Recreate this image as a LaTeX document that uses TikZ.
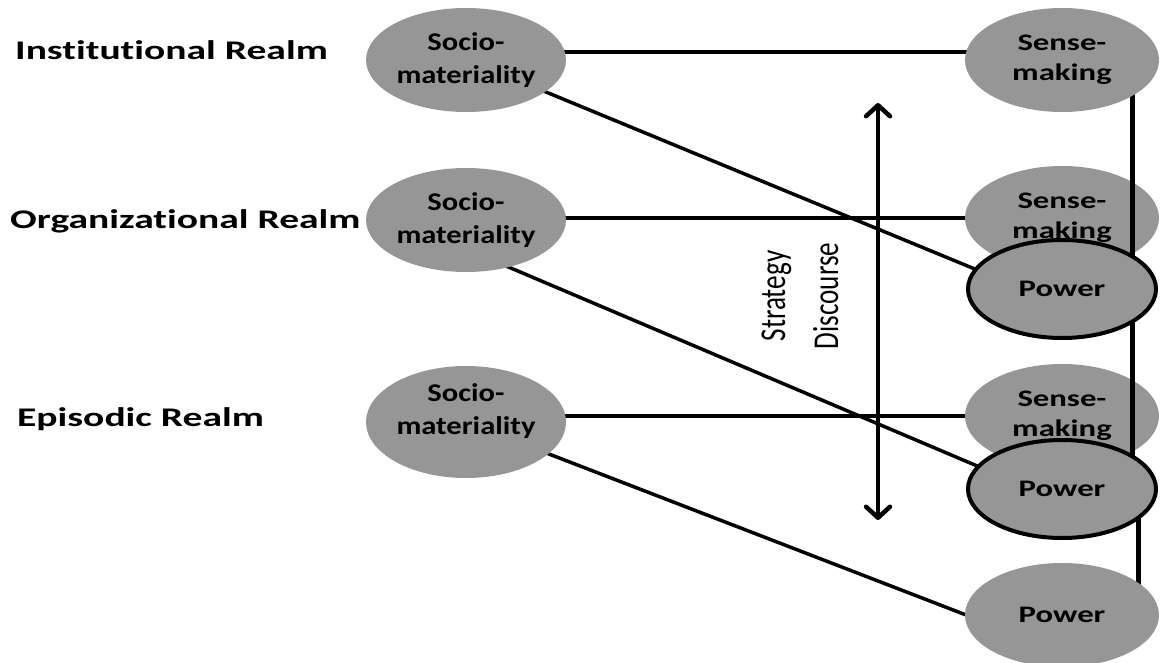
\documentclass[tikz,border=0pt]{standalone}
\usepackage{fontspec}
\setmainfont{Carlito}
\newfontfamily\realmfont[FakeStretch=1.47,Ligatures=NoCommon]{Carlito}
\newfontfamily\sociofont[FakeStretch=1.2,Ligatures=NoCommon]{Carlito}
\newfontfamily\sensefont[FakeStretch=1.38,Ligatures=NoCommon]{Carlito}
\newfontfamily\discfont[FakeStretch=0.745,Ligatures=NoCommon]{Carlito}
\usetikzlibrary{shapes.geometric,arrows.meta}
\pgfdeclarelayer{back}
\pgfdeclarelayer{wires}
\pgfsetlayers{back,wires,main}
\definecolor{ovalgray}{RGB}{150,150,150}

\begin{document}
\begin{tikzpicture}[x=1pt,y=-1pt,
  realm/.style={anchor=base west, inner sep=0pt,
    font=\realmfont\bfseries\fontsize{26.9}{32}\selectfont},
  oval/.style={ellipse, fill=ovalgray, inner sep=0pt, align=center},
  sociofnt/.style={font=\sociofont\bfseries\fontsize{25.5}{33}\selectfont},
  socio/.style={oval, sociofnt, minimum width=200pt, minimum height=104pt},
  sense/.style={oval, minimum width=194pt, minimum height=104pt,
    font=\sensefont\bfseries\fontsize{23.7}{30}\selectfont},
  power/.style={sense, minimum width=188pt, minimum height=98pt,
    draw=black, line width=4pt},
  disc/.style={align=center, inner sep=0pt,
    font=\discfont\fontsize{36.4}{53}\selectfont},
  hwire/.style={line width=3.3pt},
  dwire/.style={line width=3.5pt},
  vwire/.style={line width=5pt},
  sdarrow/.style={line width=4.5pt,
    arrows={Straight Barb[length=11pt,width=24pt,round]-Straight Barb[length=11pt,width=24pt,round]}},
]
\useasboundingbox (0,0) rectangle (1162,663);

% realm labels
\node[realm] (lInst) at (15,60)  {Institutional Realm};
\node[realm] (lOrg)  at (10,229) {Organizational Realm};
\node[realm] (lEpi)  at (17,426) {Episodic Realm};

% sense-making ovals that lie underneath the connectors
\begin{pgfonlayer}{back}
  \fill[white] (0,0) rectangle (1162,663);
  \node[sense] (sm2) at (1062,218) {Sense-\\making};
  \node[sense] (sm3) at (1062,416) {Sense-\\making};
\end{pgfonlayer}

% front ovals
\node[socio] (s1) at (466,60)  {Socio-\\materiality};
\node[socio] (s2) at (466,220) {Socio-\\materiality};
\node[socio, minimum height=112pt] (s3) at (466,422) {};
\node[sociofnt, align=center, inner sep=0pt] (s3t) at ([yshift=11pt]s3.center) {Socio-\\materiality};

\node[sense] (sm1) at (1062,60) {Sense-\\making};
\node[power] (p1) at (1062,289) {Power};
\node[power] (p2) at (1062,489) {Power};
\node[sense] (p3) at (1062,615) {Power};

% strategy discourse axis
\coordinate (sdtop) at (878,103);
\coordinate (sdbot) at (878,520);
\node[disc, rotate=90] (sd) at (800,296) {Strategy\\Discourse};

\begin{pgfonlayer}{wires}
  % realm links
  \draw[hwire] ([yshift=8pt]s1.center) -- ([yshift=8pt]sm1.center);
  \draw[hwire] (sm2.west -| s2.center) -- (sm2.west);
  \draw[hwire] (sm3.west -| s3.center) -- (sm3.west);
  % socio-materiality to power
  \draw[dwire] ([yshift=1pt]s1.center) -- ([yshift=-16pt]p1.center);
  \draw[dwire] ([yshift=-29pt]s2.center) -- ([yshift=-13pt]p2.center);
  \draw[dwire] (s3.center) -- ([yshift=-37pt]p3.center);
  % right-hand chain
  \draw[vwire] ([xshift=70pt]sm1.center) -- ([xshift=70pt]p1.center);
  \draw[vwire] ([xshift=70pt]p1.center) -- ([xshift=70pt]p2.center);
  \draw[vwire] ([xshift=76pt]p2.center) -- ([xshift=76pt]p3.center);
  % double arrow
  \draw[sdarrow] (sdtop) -- (sdbot);
\end{pgfonlayer}
\end{tikzpicture}
\end{document}
